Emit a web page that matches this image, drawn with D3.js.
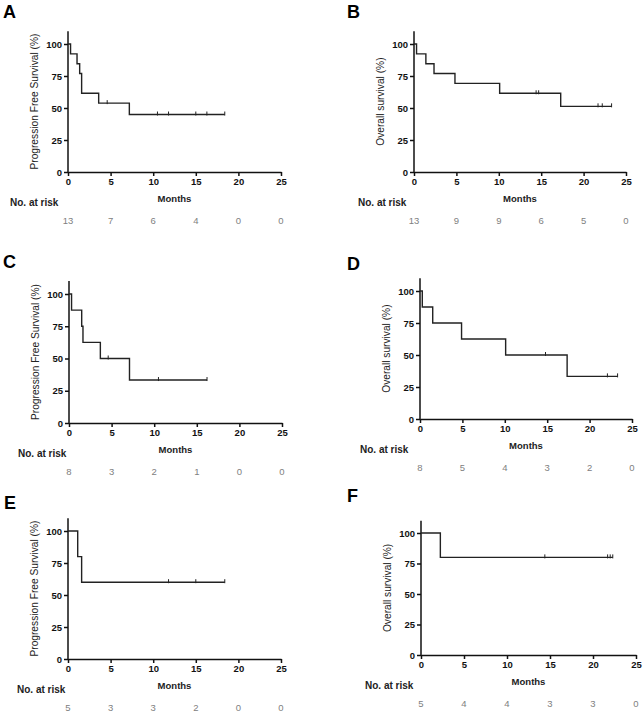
<html>
<head>
<script src="https://d3js.org/d3.v7.min.js"></script>
<style>
body { margin: 0; background: #fff; }
svg { font-family: "Liberation Sans", Arial, sans-serif; }
.axis path, .axis line { stroke: #111; stroke-width: 1.5; }
.axis text { font-size: 9.5px; font-weight: bold; fill: #111; }
.km { fill: none; stroke: #222; stroke-width: 1.4; }
.cens { stroke: #222; stroke-width: 1; }
.ylab { font-size: 10.2px; fill: #222; text-anchor: middle; }
.xlab { font-size: 9.5px; font-weight: bold; fill: #222; text-anchor: middle; }
.risklab { font-size: 10px; font-weight: bold; fill: #222; }
.risk { font-size: 9.5px; fill: #808080; text-anchor: middle; }
.letter { font-size: 18px; font-weight: bold; fill: #000; }
</style>
</head>
<body>
<svg width="644" height="716"></svg>
<script>

// shared ticks
var monthTicks = [0, 5, 10, 15, 20, 25];
var survTicks = [0, 25, 50, 75, 100];

// A - PFS, all patients
var pfsAllTime = [0, 0.3, 1.06, 1.37, 1.6, 3.6, 7.2, 18.4];
var pfsAllSurv = [100, 92.3, 84.6, 76.9, 61.5, 53.8, 44.9, 44.9];
var pfsAllCens = [4.6, 10.5, 11.8, 15.0, 16.3, 18.4];
var pfsAllRisk = [13, 7, 6, 4, 0, 0];

// B - OS, all patients
var osAllTime = [0, 0.3, 1.4, 2.36, 4.83, 10.1, 17.3, 23.3];
var osAllSurv = [100, 92.3, 84.6, 76.9, 69.2, 61.5, 51.3, 51.3];
var osAllCens = [14.4, 14.7, 21.7, 22.2, 23.3];
var osAllRisk = [13, 9, 9, 6, 5, 0];

// C - PFS, subgroup 1
var pfsG1Time = [0, 0.3, 1.49, 1.64, 3.68, 7.1, 16.2];
var pfsG1Surv = [100, 87.5, 75, 62.5, 50, 33.3, 33.3];
var pfsG1Cens = [4.6, 10.5, 16.2];
var pfsG1Risk = [8, 3, 2, 1, 0, 0];

// D - OS, subgroup 1
var osG1Time = [0, 0.27, 1.5, 4.9, 10.1, 17.35, 23.3];
var osG1Surv = [100, 87.5, 75, 62.5, 50, 33.3, 33.3];
var osG1Cens = [14.8, 22.1, 23.3];
var osG1Risk = [8, 5, 4, 3, 2, 0];

// E - PFS, subgroup 2
var pfsG2Time = [0, 1.14, 1.6, 18.4];
var pfsG2Surv = [100, 80, 60, 60];
var pfsG2Cens = [11.8, 15.0, 18.4];
var pfsG2Risk = [5, 3, 3, 2, 0, 0];

// F - OS, subgroup 2
var osG2Time = [0, 2.25, 22.3];
var osG2Surv = [100, 80, 80];
var osG2Cens = [14.4, 21.7, 22.0, 22.3];
var osG2Risk = [5, 4, 4, 3, 3, 0];

var pfsTitle = "Progression Free Survival (%)";
var osTitle = "Overall survival (%)";

// layout of the six panels (pixels)
var panels = [
  {letter: "A", lx: 3,   ly: 18,  x0: 68,  x1: 281, y0: 172, y100: 44,  rx: 10,  ylab: pfsTitle, t: pfsAllTime, s: pfsAllSurv, c: pfsAllCens, r: pfsAllRisk},
  {letter: "B", lx: 347, ly: 18,  x0: 414, x1: 626, y0: 172, y100: 44,  rx: 358, ylab: osTitle,  t: osAllTime,  s: osAllSurv,  c: osAllCens,  r: osAllRisk},
  {letter: "C", lx: 3,   ly: 268, x0: 69,  x1: 282, y0: 423, y100: 294, rx: 18,  ylab: pfsTitle, t: pfsG1Time,  s: pfsG1Surv,  c: pfsG1Cens,  r: pfsG1Risk},
  {letter: "D", lx: 347, ly: 270, x0: 420, x1: 632, y0: 419, y100: 291, rx: 360, ylab: osTitle,  t: osG1Time,   s: osG1Surv,   c: osG1Cens,   r: osG1Risk},
  {letter: "E", lx: 4,   ly: 509, x0: 68,  x1: 281, y0: 659, y100: 531, rx: 17,  ylab: pfsTitle, t: pfsG2Time,  s: pfsG2Surv,  c: pfsG2Cens,  r: pfsG2Risk},
  {letter: "F", lx: 347, ly: 502, x0: 421, x1: 636, y0: 655, y100: 533, rx: 365, ylab: osTitle,  t: osG2Time,   s: osG2Surv,   c: osG2Cens,   r: osG2Risk}
];

var svg = d3.select("svg");

panels.forEach(function(p) {
  var g = svg.append("g");

  var x = d3.scaleLinear().domain([0, 25]).range([p.x0, p.x1]);
  // y axis runs a bit above 100
  var y = d3.scaleLinear().domain([0, 100]).range([p.y0, p.y100]);
  var yTop = y(110);

  g.append("text")
      .attr("class", "letter")
      .attr("x", p.lx)
      .attr("y", p.ly)
      .text(p.letter);

  g.append("g")
      .attr("class", "axis")
      .attr("transform", "translate(0," + p.y0 + ")")
      .call(d3.axisBottom(x).tickValues(monthTicks).tickSize(4).tickSizeOuter(0).tickPadding(2));

  var yAxis = g.append("g")
      .attr("class", "axis")
      .attr("transform", "translate(" + p.x0 + ",0)")
      .call(d3.axisLeft(y).tickValues(survTicks).tickSize(4).tickSizeOuter(0).tickPadding(2));
  // extend the y domain line up to 110
  yAxis.select(".domain").attr("d", "M0," + p.y0 + "V" + yTop);

  g.append("text")
      .attr("class", "ylab")
      .attr("transform", "translate(" + (p.x0 - 30) + "," + ((p.y0 + yTop) / 2) + ") rotate(-90)")
      .text(p.ylab);

  g.append("text")
      .attr("class", "xlab")
      .attr("x", (p.x0 + p.x1) / 2)
      .attr("y", p.y0 + 30)
      .text("Months");

  // step curve
  var pts = p.t.map(function(t, i) { return [t, p.s[i]]; });
  var line = d3.line()
      .curve(d3.curveStepAfter)
      .x(function(d) { return x(d[0]); })
      .y(function(d) { return y(d[1]); });
  g.append("path")
      .datum(pts)
      .attr("class", "km")
      .attr("d", line);

  // censor marks
  function survAt(t) {
    var v = p.s[0];
    for (var i = 0; i < p.t.length; i++) if (p.t[i] <= t) v = p.s[i];
    return v;
  }
  g.selectAll(".cens")
      .data(p.c)
    .enter().append("line")
      .attr("class", "cens")
      .attr("x1", function(d) { return x(d); })
      .attr("x2", function(d) { return x(d); })
      .attr("y1", function(d) { return y(survAt(d)) - 3; })
      .attr("y2", function(d) { return y(survAt(d)) + 1; });

  // numbers at risk
  g.append("text")
      .attr("class", "risklab")
      .attr("x", p.rx)
      .attr("y", p.y0 + 34)
      .text("No. at risk");

  g.selectAll(".risk")
      .data(p.r)
    .enter().append("text")
      .attr("class", "risk")
      .attr("x", function(d, i) { return x(monthTicks[i]); })
      .attr("y", p.y0 + 52)
      .text(function(d) { return d; });
});

</script>
</body>
</html>
